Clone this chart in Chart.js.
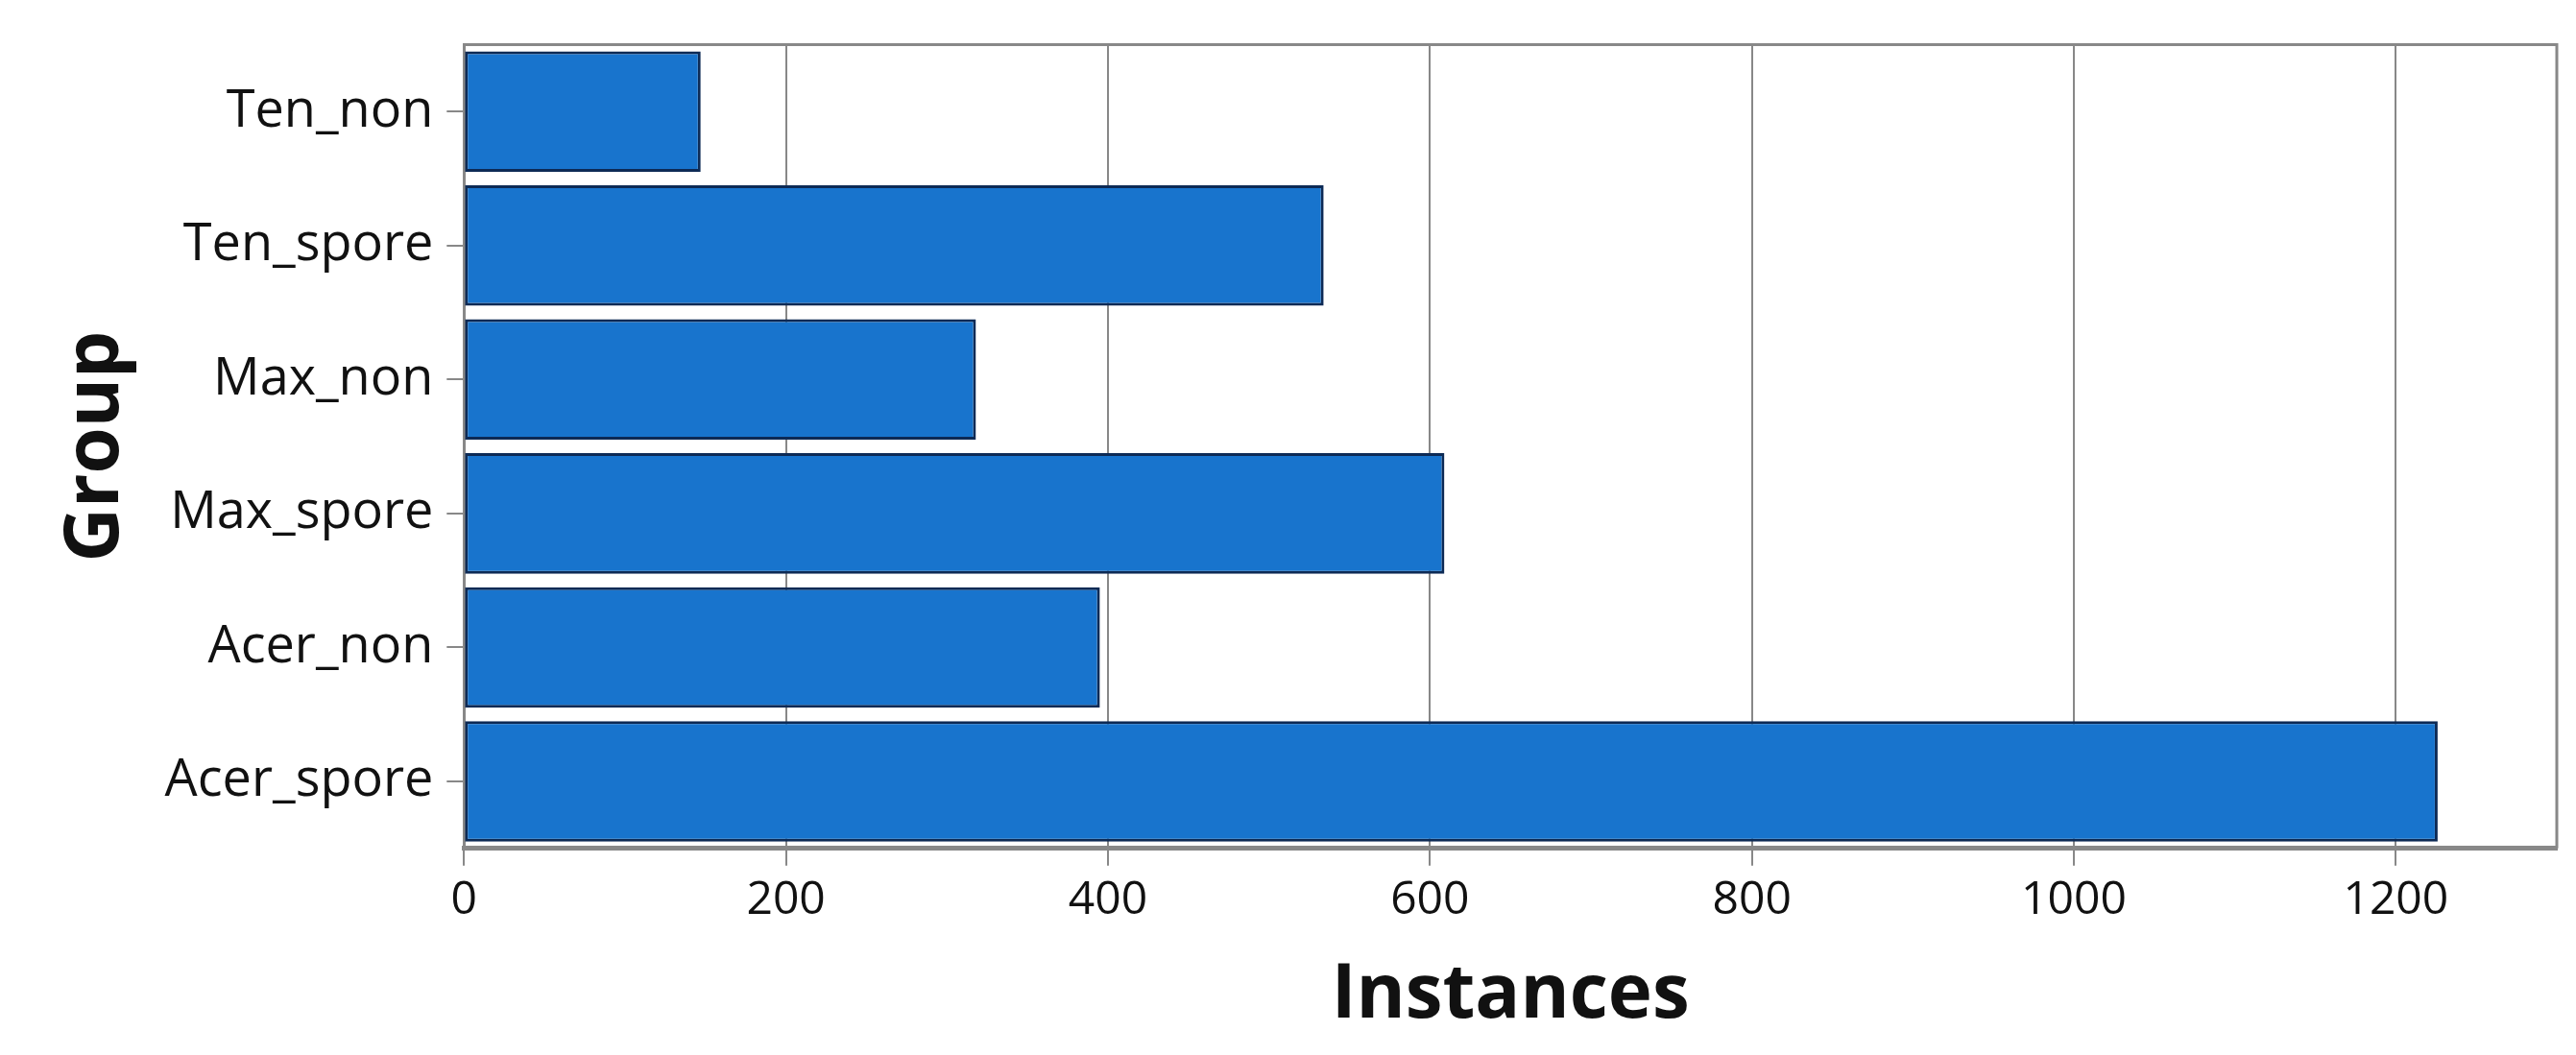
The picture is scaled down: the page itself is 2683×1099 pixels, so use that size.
<!DOCTYPE html>
<html>
<head>
<meta charset="utf-8">
<script src="https://cdn.jsdelivr.net/npm/chart.js@4"></script>
<style>
  html, body { margin: 0; padding: 0; background: #fff; }
  #wrap { width: 2683px; height: 1099px; }
</style>
</head>
<body>
<div id="wrap"><canvas id="grafico"></canvas></div>
<script>
const categorias = ['Ten_non', 'Ten_spore', 'Max_non', 'Max_spore', 'Acer_non', 'Acer_spore'];
const instancias = [147, 534, 318, 609, 395, 1226];
const ticksX = [0, 200, 400, 600, 800, 1000, 1200];

const fonte = "'Open Sans', 'Liberation Sans', sans-serif";

new Chart(document.getElementById('grafico').getContext('2d'), {
  type: 'bar',
  data: {
    labels: categorias,
    datasets: [{
      data: instancias,
      backgroundColor: '#1874cd',
      borderColor: '#0d2a55',
      borderWidth: 3,
      borderSkipped: false,
      categoryPercentage: 1,
      barPercentage: 0.9
    }]
  },
  options: {
    indexAxis: 'y',
    responsive: true,
    maintainAspectRatio: false,
    animation: false,
    layout: { padding: { top: 44, right: 20, bottom: 10, left: 50 } },
    plugins: { legend: { display: false }, tooltip: { enabled: false } },
    scales: {
      x: {
        min: 0,
        max: 1300,
        afterBuildTicks: axis => { axis.ticks = ticksX.map(v => ({ value: v })); },
        grid: { color: '#888', lineWidth: 2, tickLength: 18 },
        border: { color: '#888', width: 5 },
        ticks: { color: '#111', font: { family: fonte, size: 48 }, padding: 8, maxRotation: 0, callback: v => String(v) },
        title: { display: true, text: 'Instances', color: '#111', font: { family: fonte, size: 78, weight: 'bold' }, padding: { top: 16 } }
      },
      y: {
        grid: { drawOnChartArea: false, offset: false, color: '#888', lineWidth: 2, tickLength: 18 },
        border: { color: '#888', width: 3 },
        ticks: { color: '#111', font: { family: fonte, size: 54 }, padding: 14 },
        title: { display: true, text: 'Group', color: '#111', font: { family: fonte, size: 78, weight: 'bold' }, padding: { bottom: 10 } }
      }
    }
  },
  plugins: [{
    id: 'moldura',
    afterDraw(chart) {
      const { ctx, chartArea: a } = chart;
      ctx.save();
      ctx.strokeStyle = '#888';
      ctx.lineWidth = 3;
      ctx.beginPath();
      ctx.moveTo(a.left, a.top);
      ctx.lineTo(a.right, a.top);
      ctx.lineTo(a.right, a.bottom);
      ctx.stroke();
      ctx.restore();
    }
  }]
});
</script>
</body>
</html>
